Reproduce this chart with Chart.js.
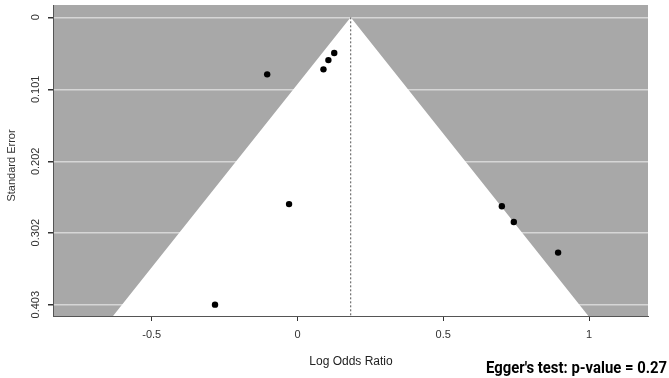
<!DOCTYPE html>
<html>
<head>
<meta charset="utf-8">
<script src="https://cdn.jsdelivr.net/npm/chart.js@4"></script>
<style>
  html, body { margin: 0; padding: 0; background: #fff; }
  #wrap { width: 669px; height: 378px; }
</style>
</head>
<body>
<div id="wrap"><canvas id="funnelChart" width="669" height="378"></canvas></div>
<script>
// study estimates
const studyLogOR = [-0.104, 0.126, 0.106, 0.089, -0.029, -0.283, 0.701, 0.742, 0.894];
const studySE    = [0.080, 0.050, 0.060, 0.073, 0.262, 0.403, 0.265, 0.287, 0.330];

// pseudo confidence funnel (bottom-left, apex, bottom-right)
const funnelX  = [-0.633, 0.1825, 0.998];
const funnelSE = [0.419, 0, 0.419];

// pooled estimate line
const centerX  = [0.1825, 0.1825];
const centerSE = [0, 0.419];

const xTicks = [-0.5, 0, 0.5, 1];
const xTickLabels = ['-0.5', '0', '0.5', '1'];
const yTicks = [0, 0.101, 0.202, 0.302, 0.403];
const yTickLabels = ['0', '0.101', '0.202', '0.302', '0.403'];

const xRange = [-0.8388, 1.2024];
const yRange = [-0.01725, 0.4189];

const xTitle = 'Log Odds Ratio';
const yTitle = 'Standard Error';
const eggerText = "Egger's test: p-value = 0.27";

const toPoints = (xs, ys) => xs.map((x, i) => ({ x: x, y: ys[i] }));

const plotBackground = {
    id: 'plotBackground',
    beforeDraw(chart) {
        const { ctx, chartArea: a } = chart;
        ctx.save();
        ctx.fillStyle = '#a8a8a8';
        ctx.fillRect(a.left, a.top, a.right - a.left, a.bottom - a.top);
        ctx.restore();
    }
};

const textLayer = {
    id: 'textLayer',
    afterDraw(chart) {
        const ctx = chart.ctx;
        const y = chart.scales.y;
        ctx.save();
        ctx.fillStyle = '#333';
        ctx.font = '11px "Liberation Sans", Arial, sans-serif';
        ctx.textAlign = 'center';
        ctx.textBaseline = 'middle';
        // rotated y tick labels
        y.ticks.forEach((t, i) => {
            const py = y.getPixelForValue(t.value);
            ctx.save();
            ctx.translate(36, py);
            ctx.rotate(-Math.PI / 2);
            ctx.fillText(yTickLabels[i], 0, 0);
            ctx.restore();
        });
        // y axis title
        ctx.save();
        ctx.translate(12, (chart.chartArea.top + chart.chartArea.bottom) / 2 + 5);
        ctx.rotate(-Math.PI / 2);
        ctx.fillText(yTitle, 0, 0);
        ctx.restore();
        // x axis title
        ctx.fillStyle = '#222';
        ctx.font = '12px "Liberation Sans", Arial, sans-serif';
        ctx.fillText(xTitle, 351, 362);
        // Egger's test note
        ctx.fillStyle = '#000';
        ctx.font = 'bold 17px Roboto, "DejaVu Sans", sans-serif';
        const w = ctx.measureText(eggerText).width;
        const target = 181;
        ctx.translate(667, 369);
        ctx.scale(target / w, 1);
        ctx.textAlign = 'right';
        ctx.fillText(eggerText, 0, 0);
        ctx.restore();
    }
};

const chart = new Chart(document.getElementById('funnelChart').getContext('2d'), {
    type: 'scatter',
    data: {
        datasets: [
            {
                label: 'Studies',
                data: toPoints(studyLogOR, studySE),
                pointRadius: 3.2,
                pointBackgroundColor: '#000',
                pointBorderColor: '#000',
                pointBorderWidth: 0,
                showLine: false,
                order: 0
            },
            {
                label: 'Pooled',
                data: toPoints(centerX, centerSE),
                showLine: true,
                borderColor: '#555',
                borderWidth: 1,
                borderDash: [2, 2],
                pointRadius: 0,
                fill: false,
                order: 1
            },
            {
                label: 'Funnel',
                data: toPoints(funnelX, funnelSE),
                showLine: true,
                borderColor: 'rgba(255,255,255,0)',
                borderWidth: 0,
                backgroundColor: '#ffffff',
                pointRadius: 0,
                tension: 0,
                fill: { value: yRange[1] },
                order: 2
            }
        ]
    },
    options: {
        responsive: false,
        animation: false,
        layout: { padding: { top: 5, right: 21, left: 0, bottom: 0 } },
        plugins: {
            legend: { display: false },
            tooltip: { enabled: false }
        },
        scales: {
            x: {
                type: 'linear',
                min: xRange[0],
                max: xRange[1],
                afterBuildTicks: s => { s.ticks = xTicks.map(v => ({ value: v })); },
                afterFit: s => { s.height = 62; },
                grid: {
                    drawOnChartArea: false,
                    drawTicks: true,
                    tickLength: 5,
                    tickColor: '#333'
                },
                border: { display: true, color: '#555', width: 1 },
                ticks: {
                    padding: 7,
                    color: '#333',
                    font: { family: '"Liberation Sans", Arial, sans-serif', size: 11 },
                    maxRotation: 0,
                    callback: (v, i) => xTickLabels[i]
                }
            },
            y: {
                type: 'linear',
                reverse: true,
                min: yRange[0],
                max: yRange[1],
                afterBuildTicks: s => { s.ticks = yTicks.map(v => ({ value: v })); },
                afterFit: s => { s.width = 53; },
                grid: {
                    color: '#d6d6d6',
                    lineWidth: 1.5,
                    drawTicks: true,
                    tickLength: 5,
                    tickColor: '#333'
                },
                border: { display: true, color: '#555', width: 1 },
                ticks: {
                    display: false
                }
            }
        }
    },
    plugins: [plotBackground, textLayer]
});
</script>
</body>
</html>
